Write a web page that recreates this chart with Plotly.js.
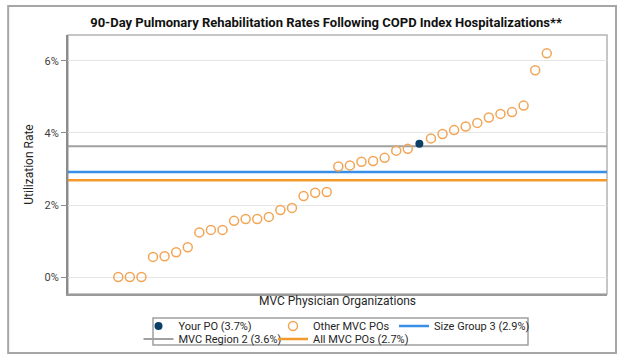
<!DOCTYPE html>
<html>
<head>
<meta charset="utf-8">
<script src="https://cdn.plot.ly/plotly-3.0.1.min.js"></script>
<style>html,body{margin:0;padding:0;background:#fff;}#chart{width:624px;height:362px;}</style>
</head>
<body>
<div id="chart"></div>
<script>
// Data (utilization rates in %), sorted as in the reference
const poRates = [0, 0, 0, 0.56, 0.58, 0.69, 0.83, 1.24, 1.31, 1.31, 1.56, 1.61, 1.61, 1.67, 1.86, 1.92, 2.25, 2.34, 2.36,
  3.07, 3.10, 3.20, 3.22, 3.31, 3.51, 3.56, 3.70, 3.85, 3.97, 4.08, 4.18, 4.28, 4.43, 4.53, 4.58, 4.76, 5.74, 6.21];
const yourPoIndex = 27; // 1-based position of "Your PO"
const yourPoLabel = 'Your PO (3.7%)';
const otherLabel = 'Other MVC POs';
const benchmarkNames = ['Size Group 3 (2.9%)', 'MVC Region 2 (3.6%)', 'All MVC POs (2.7%)'];
const benchmarkValues = [2.92, 3.63, 2.69];
const benchmarkColors = ['#3A8EE6', '#a0a0a0', '#F39A2E'];
const yTicks = [0, 2, 4, 6];
const yTickText = ['0%', '2%', '4%', '6%'];
const xRange = [-3.34, 43.2];
const yRange = [-0.47, 6.72];

const xs = poRates.map((v, i) => i + 1);
const otherX = [], otherY = [];
xs.forEach((x, i) => { if (x !== yourPoIndex) { otherX.push(x); otherY.push(poRates[i]); } });

const benchLegends = ['legend3', 'legend4', 'legend5'];
const bench = benchmarkNames.map((n, k) => ({
  type: 'scatter', mode: 'lines', name: n,
  x: [xRange[0], xRange[1]], y: [benchmarkValues[k], benchmarkValues[k]],
  line: { color: benchmarkColors[k], width: k === 1 ? 2 : 2.5 },
  legend: benchLegends[k], hoverinfo: 'skip'
}));

const traces = [
  bench[1], bench[0], bench[2],
  { type: 'scatter', mode: 'markers', name: otherLabel, x: otherX, y: otherY, legend: 'legend2',
    marker: { symbol: 'circle-open', size: 9, color: '#F2A556', line: { width: 1.5, color: '#F2A556' } } },
  { type: 'scatter', mode: 'markers', name: yourPoLabel, x: [yourPoIndex], y: [poRates[yourPoIndex - 1]], legend: 'legend',
    marker: { symbol: 'circle', size: 8, color: '#0B3F66' } }
];

const font = 'Roboto, Noto Sans, sans-serif';
const legFont = { family: font, size: 11, color: '#262626' };
const row1 = (294 - 326) / 259, row2 = (294 - 339) / 259;
const col1 = (138.5 - 68) / 539, col2 = (273 - 68) / 539, col3 = (394 - 68) / 539;
function leg(x, y) {
  return { orientation: 'h', x: x, xanchor: 'left', y: y, yanchor: 'middle', font: legFont,
    bgcolor: 'rgba(0,0,0,0)', borderwidth: 0, itemwidth: 30 };
}

const layout = {
  width: 624, height: 362,
  margin: { l: 68, r: 17, t: 35, b: 68, autoexpand: false },
  paper_bgcolor: '#fff', plot_bgcolor: '#fff',
  font: { family: font, size: 11, color: '#404040' },
  title: { text: '<b>90-Day Pulmonary Rehabilitation Rates Following COPD Index Hospitalizations**</b>',
    x: (326 - 68) / 539, xanchor: 'center', y: 1 - 22 / 362, yanchor: 'middle', xref: 'paper',
    font: { family: font, size: 13, color: '#111' } },
  xaxis: { range: xRange, showticklabels: false, ticks: '', showgrid: false, zeroline: false,
    showline: true, linecolor: '#9a9a9a', linewidth: 2,
    title: { text: 'MVC Physician Organizations', standoff: 2, font: { size: 12, color: '#262626' } } },
  yaxis: { range: yRange, tickmode: 'array', tickvals: yTicks, ticktext: yTickText, ticks: 'outside', ticklen: 5, tickcolor: '#8c8c8c',
    showgrid: true, gridcolor: '#e6e6e6', gridwidth: 1, zeroline: false,
    showline: true, linecolor: '#8c8c8c', linewidth: 2,
    tickfont: { size: 11, color: '#404040' },
    title: { text: 'Utilization Rate', standoff: 8, font: { size: 12, color: '#262626' } } },
  showlegend: true,
  legend: leg(col1, row1),
  legend2: leg(col2, row1),
  legend3: leg(col3, row1),
  legend4: leg(col1, row2),
  legend5: leg(col2, row2),
  shapes: [
    { type: 'rect', xref: 'paper', yref: 'paper', x0: -0.111, x1: 1.0167, y0: -0.2278, y1: 1.1120,
      line: { color: '#a6a6a6', width: 2 }, layer: 'below' },
    { type: 'rect', xref: 'paper', yref: 'paper', x0: 0, x1: 1, y0: 0, y1: 1,
      line: { color: '#b4b4b4', width: 1.5 }, layer: 'below' },
    { type: 'rect', xref: 'paper', yref: 'paper', x0: (153 - 68) / 539, x1: (528 - 68) / 539,
      y0: (294 - 345) / 259, y1: (294 - 318) / 259, line: { color: '#a0a0a0', width: 1.5 }, layer: 'below' }
  ]
};

Plotly.newPlot('chart', traces, layout, { displayModeBar: false, staticPlot: true });
</script>
</body>
</html>
